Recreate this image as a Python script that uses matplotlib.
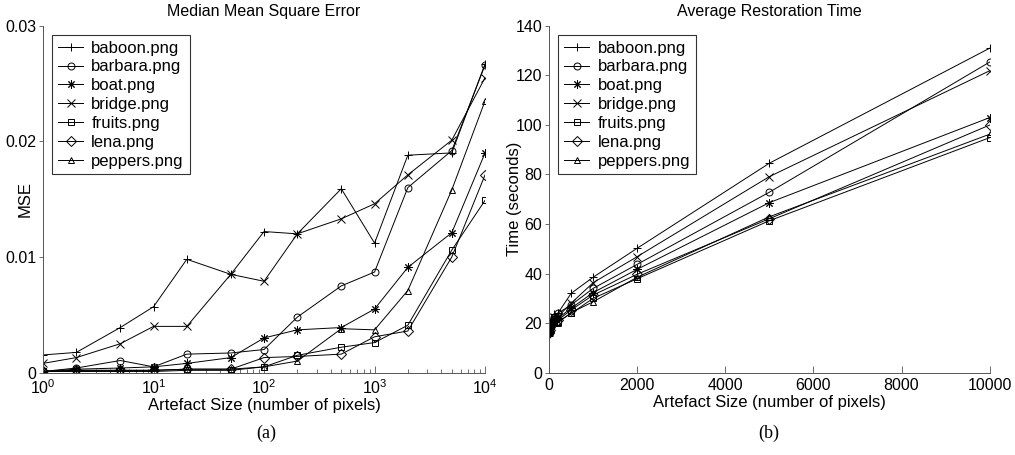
import numpy as np
import matplotlib
matplotlib.use('Agg')
import matplotlib.pyplot as plt
from matplotlib.ticker import FixedLocator, FuncFormatter, LogLocator, NullFormatter

plt.rcParams['font.family'] = ['Liberation Sans', 'DejaVu Sans']

# Artefact sizes (pixels)
sizes = [1, 2, 5, 10, 20, 50, 100, 200, 500, 1000, 2000, 5000, 10000]
images = ['baboon.png', 'barbara.png', 'boat.png', 'bridge.png',
          'fruits.png', 'lena.png', 'peppers.png']
# MATLAB-like markers; (8, 2, 0) is an eight-spoke asterisk
markers = ['+', 'o', (8, 2, 0), 'x', 's', 'D', '^']

# (a) median mean square error
mse_baboon = [0.00153, 0.00175, 0.0039, 0.0057, 0.0098, 0.0085, 0.0122,
              0.0120, 0.0159, 0.0112, 0.0188, 0.0190, 0.0267]
mse_barbara = [0.0001, 0.0004, 0.00105, 0.0005, 0.0016, 0.0017, 0.0020,
               0.0048, 0.0075, 0.0087, 0.0160, 0.0192, 0.0266]
mse_boat = [0.0001, 0.0003, 0.0004, 0.0005, 0.0008, 0.0013, 0.0030,
            0.0037, 0.0039, 0.0055, 0.0091, 0.0121, 0.0190]
mse_bridge = [0.0008, 0.0013, 0.0025, 0.0040, 0.0040, 0.0085, 0.0079,
              0.0120, 0.0133, 0.0146, 0.0171, 0.0201, 0.0255]
mse_fruits = [0.0001, 0.0001, 0.0001, 0.0001, 0.0002, 0.0002, 0.0005,
              0.0015, 0.0022, 0.0026, 0.0041, 0.0106, 0.0149]
mse_lena = [0.0001, 0.0002, 0.0002, 0.0002, 0.0003, 0.0003, 0.0013,
            0.0014, 0.0016, 0.0031, 0.0036, 0.0100, 0.0171]
mse_peppers = [0.0001, 0.0002, 0.0002, 0.0002, 0.0003, 0.0003, 0.0005,
               0.0010, 0.0038, 0.0037, 0.0071, 0.0158, 0.0235]

# (b) average restoration time (seconds)
time_baboon = [16.5, 17.0, 17.6, 18.4, 19.6, 21.5, 23.5, 24.0, 32.0, 38.5, 50.2, 84.5, 130.9]
time_barbara = [16.2, 16.6, 17.2, 17.9, 19.0, 20.8, 22.5, 24.0, 27.3, 34.0, 43.7, 72.8, 125.3]
time_boat = [16.0, 16.4, 17.0, 17.6, 18.6, 20.2, 21.5, 21.9, 26.0, 32.3, 41.7, 68.6, 102.9]
time_bridge = [16.3, 16.8, 17.4, 18.1, 19.2, 21.0, 22.5, 22.6, 28.0, 36.3, 46.8, 79.1, 121.8]
time_fruits = [15.8, 16.1, 16.6, 17.2, 18.0, 19.4, 20.5, 20.6, 23.9, 30.0, 37.9, 61.3, 94.8]
time_lena = [15.9, 16.3, 16.8, 17.4, 18.3, 19.8, 21.0, 21.2, 25.3, 31.3, 39.7, 62.1, 99.9]
time_peppers = [15.8, 16.2, 16.7, 17.3, 18.1, 19.5, 20.4, 20.2, 24.2, 28.6, 38.5, 62.9, 96.2]

mse = [mse_baboon, mse_barbara, mse_boat, mse_bridge, mse_fruits, mse_lena, mse_peppers]
times = [time_baboon, time_barbara, time_boat, time_bridge, time_fruits, time_lena, time_peppers]


def style_axes(ax):
    ax.spines['top'].set_visible(False)
    ax.spines['right'].set_visible(False)
    for s in ['left', 'bottom']:
        ax.spines[s].set_linewidth(0.7)
        ax.spines[s].set_color('#555555')
    ax.tick_params(which='both', labelsize=11.5, width=0.6, color='#555555')
    ax.tick_params(axis='y', direction='out', length=3, pad=2)
    ax.tick_params(axis='x', which='major', direction='in', length=5, pad=4)
    ax.tick_params(axis='x', which='minor', direction='in', length=3)


def plot_series(ax, ydata):
    for name, m, y in zip(images, markers, ydata):
        ms = 5 if m in ['o', 's', 'D', '^'] else 6
        ax.plot(sizes, y, marker=m, color='black', lw=0.7, ms=ms, mew=0.7,
                mfc='none', label=name)
    leg = ax.legend(loc='upper left', fontsize=12, frameon=True, fancybox=False,
                    borderpad=0.35, labelspacing=0.23, handlelength=1.5,
                    handletextpad=0.5, borderaxespad=0.55)
    leg.get_frame().set_edgecolor('black')
    leg.get_frame().set_linewidth(0.8)


fig = plt.figure(figsize=(10.15, 4.55), dpi=100)
ax1 = fig.add_axes([0.0424, 0.181, 0.4355, 0.7626])
ax2 = fig.add_axes([0.541, 0.181, 0.434, 0.7626])

# (a)
plot_series(ax1, mse)
ax1.set_xscale('log')
ax1.set_xlim(1, 10000)
ax1.set_ylim(0, 0.03)
ax1.yaxis.set_major_locator(FixedLocator([0, 0.01, 0.02, 0.03]))
ax1.yaxis.set_major_formatter(FuncFormatter(lambda v, p: '0' if v == 0 else f'{v:g}'))
ax1.xaxis.set_major_locator(LogLocator(base=10, numticks=10))
ax1.xaxis.set_minor_locator(LogLocator(base=10, subs=np.arange(2, 10), numticks=20))
ax1.xaxis.set_minor_formatter(NullFormatter())
style_axes(ax1)
ax1.set_title('Median Mean Square Error', fontsize=11.5, pad=7)
ax1.set_xlabel('Artefact Size (number of pixels)', fontsize=12, labelpad=1)
ax1.set_ylabel('MSE', fontsize=12)
ax1.yaxis.set_label_coords(-0.024, 0.5)

# (b)
plot_series(ax2, times)
ax2.set_xlim(0, 10000)
ax2.set_ylim(0, 140)
ax2.set_xticks(np.arange(0, 10001, 2000))
ax2.set_yticks(np.arange(0, 141, 20))
style_axes(ax2)
ax2.set_title('Average Restoration Time', fontsize=11.5, pad=7)
ax2.set_xlabel('Artefact Size (number of pixels)', fontsize=12, labelpad=1)
ax2.set_ylabel('Time (seconds)', fontsize=12)
ax2.yaxis.set_label_coords(-0.062, 0.5)

fig.text(0.262, 0.048, '(a)', ha='center', va='center', fontsize=13,
         family='Liberation Serif')
fig.text(0.757, 0.048, '(b)', ha='center', va='center', fontsize=13,
         family='Liberation Serif')

fig.savefig('out.png', dpi=100, facecolor='white')
